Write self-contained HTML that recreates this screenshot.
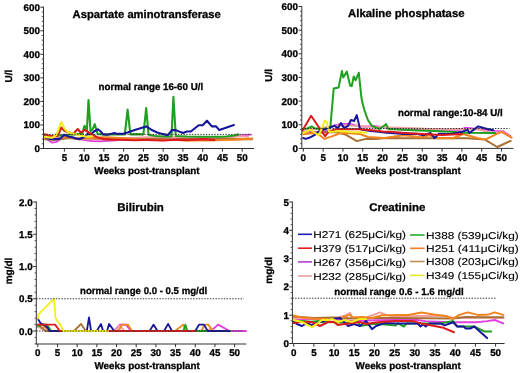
<!DOCTYPE html>
<html><head><meta charset="utf-8"><style>
html,body{margin:0;padding:0;background:#fff;}
svg{display:block;will-change:transform;}
text{font-family:"Liberation Sans", sans-serif;text-rendering:geometricPrecision;fill:#000;stroke:#000;stroke-width:0.3px;}
.tl{font-size:9.8px;font-weight:bold;}
.tt{font-size:11.2px;font-weight:bold;}
.nr{font-size:9.8px;font-weight:bold;}
.wk{font-size:9.9px;font-weight:bold;}
.ax{font-size:10px;font-weight:bold;}
.lg{font-size:9.9px;stroke-width:0.12px;}
</style></head><body>
<svg width="520" height="373" viewBox="0 0 520 373">
<rect width="520" height="373" fill="#fff"/>
<polyline points="44.6,137.9 48.6,140.3 52.1,142.6 56.5,141.9 60.4,139.1 64.8,136.7 69.1,137.2 74.3,137.9 80.2,139.1 84.2,140.0 92.1,141.0 100.0,141.2 107.9,140.7 115.8,140.3 123.7,139.6 131.6,138.6 139.5,137.9 155.3,138.1 171.1,137.7 186.9,137.9 202.7,138.1 218.5,137.7 226.4,137.2 234.3,136.3 242.2,135.3 250.9,134.6" fill="none" stroke="#e040e0" stroke-width="1.9" stroke-linejoin="round" stroke-linecap="round" opacity="1"/>
<polyline points="44.6,139.1 52.5,138.6 60.4,137.9 68.3,137.2 76.2,137.9 84.2,139.1 100.0,139.6 115.8,139.1 131.6,137.9 147.4,137.2 163.2,137.2 179.0,137.2 194.8,137.4 210.6,137.7 226.4,137.2 242.2,136.3 248.1,136.7" fill="none" stroke="#f0a0a0" stroke-width="1.9" stroke-linejoin="round" stroke-linecap="round" opacity="1"/>
<polyline points="44.6,139.1 52.5,139.6 60.4,139.1 68.3,137.9 76.2,138.6 84.2,138.1 92.1,138.1 107.9,137.9 123.7,138.6 139.5,139.1 155.3,139.1 171.1,139.6 186.9,139.1 202.7,139.8 218.5,139.1 234.3,139.1 252.1,139.3" fill="none" stroke="#a87034" stroke-width="2.1" stroke-linejoin="round" stroke-linecap="round" opacity="1"/>
<polyline points="44.6,138.1 48.6,138.8 52.5,139.1 56.5,139.1 60.4,138.6 64.4,136.7 68.3,137.2 72.3,137.7 76.2,138.6 80.2,139.1 84.2,138.1 92.1,137.7 103.9,137.2 115.8,137.7 127.6,138.6 139.5,139.6 151.3,140.0 163.2,140.3 175.0,139.8 186.9,140.7 198.7,140.3 210.6,140.5 222.4,140.0 234.3,139.6 252.1,138.6" fill="none" stroke="#f08520" stroke-width="2.1" stroke-linejoin="round" stroke-linecap="round" opacity="1"/>
<polyline points="44.6,135.5 52.5,136.3 60.4,135.5 68.3,134.8 76.2,134.4 82.2,133.9 84.5,125.7 86.9,130.1 88.5,100.0 90.5,131.1 92.4,129.7 94.8,124.2 97.0,132.0 98.0,134.1 103.9,134.4 111.8,134.4 119.7,134.1 124.8,134.4 127.6,109.6 130.4,134.4 135.5,134.1 143.4,134.4 146.2,108.0 148.6,134.8 155.3,136.0 163.2,136.5 171.5,136.5 173.4,96.9 175.8,136.0 186.9,136.5 202.7,136.7 218.5,136.7 226.4,136.5 234.3,135.5 238.2,134.4" fill="none" stroke="#1fa01f" stroke-width="2.1" stroke-linejoin="round" stroke-linecap="round" opacity="1"/>
<polyline points="44.6,136.3 46.6,137.9 48.6,138.6 52.5,139.1 56.5,139.1 60.4,138.6 64.0,134.8 69.1,136.7 72.3,137.2 75.9,138.4 79.6,139.3 84.9,136.7 87.7,133.9 90.5,134.8 94.0,131.5 98.0,129.2 100.7,131.5 103.1,134.4 107.1,134.8 110.6,133.9 114.2,133.0 117.7,133.9 122.1,133.9 127.6,132.5 135.5,129.7 146.2,126.4 151.3,129.7 157.2,132.5 162.0,133.9 167.9,135.1 171.9,130.1 175.8,130.1 182.9,133.0 186.9,131.5 190.8,131.5 198.7,125.2 202.7,125.2 207.0,120.7 211.8,126.4 216.1,126.4 219.3,130.1 233.9,125.0" fill="none" stroke="#16169c" stroke-width="2.1" stroke-linejoin="round" stroke-linecap="round" opacity="1"/>
<polyline points="44.6,134.4 46.6,134.8 48.6,135.5 52.5,136.0 56.5,136.3 58.5,134.4 61.2,127.5 64.4,130.8 67.2,132.0 70.3,132.7 73.1,133.9 77.8,129.0 80.2,132.0 81.4,132.5 84.5,129.9 88.1,132.0 90.5,133.7 94.0,135.5 98.0,137.7 103.9,139.1 111.8,139.6 119.7,139.8 127.6,140.0 135.5,140.3 143.4,140.0 147.4,140.0 155.3,140.3 163.2,140.5 171.1,140.0 179.0,139.6 186.9,140.0 194.8,139.6 202.7,139.1 210.6,139.6 214.5,140.0" fill="none" stroke="#dc1c1c" stroke-width="2.1" stroke-linejoin="round" stroke-linecap="round" opacity="1"/>
<polyline points="44.6,136.7 48.6,137.4 52.5,137.7 56.5,134.8 61.2,122.1 64.4,128.5 67.6,132.0 71.1,133.0 76.2,134.4 80.2,135.5 84.2,136.3 88.1,136.7 92.1,136.3" fill="none" stroke="#f2ee1c" stroke-width="2.1" stroke-linejoin="round" stroke-linecap="round" opacity="1"/>
<line x1="43.5" y1="134.37" x2="251.2" y2="134.37" stroke="#333" stroke-width="1" stroke-dasharray="1.4 1.4"/>
<line x1="43.5" y1="6.7" x2="43.5" y2="149.0" stroke="#333" stroke-width="1"/>
<line x1="43.5" y1="148.5" x2="254.0" y2="148.5" stroke="#333" stroke-width="1"/>
<line x1="40.3" y1="148.50" x2="43.5" y2="148.50" stroke="#333" stroke-width="1"/>
<text x="39.9" y="152.00" class="tl" text-anchor="end">0</text>
<line x1="40.3" y1="124.95" x2="43.5" y2="124.95" stroke="#333" stroke-width="1"/>
<text x="39.9" y="128.45" class="tl" text-anchor="end">100</text>
<line x1="40.3" y1="101.40" x2="43.5" y2="101.40" stroke="#333" stroke-width="1"/>
<text x="39.9" y="104.90" class="tl" text-anchor="end">200</text>
<line x1="40.3" y1="77.85" x2="43.5" y2="77.85" stroke="#333" stroke-width="1"/>
<text x="39.9" y="81.35" class="tl" text-anchor="end">300</text>
<line x1="40.3" y1="54.30" x2="43.5" y2="54.30" stroke="#333" stroke-width="1"/>
<text x="39.9" y="57.80" class="tl" text-anchor="end">400</text>
<line x1="40.3" y1="30.75" x2="43.5" y2="30.75" stroke="#333" stroke-width="1"/>
<text x="39.9" y="34.25" class="tl" text-anchor="end">500</text>
<line x1="40.3" y1="7.20" x2="43.5" y2="7.20" stroke="#333" stroke-width="1"/>
<text x="39.9" y="10.70" class="tl" text-anchor="end">600</text>
<line x1="41.7" y1="143.79" x2="43.5" y2="143.79" stroke="#444" stroke-width="0.9"/>
<line x1="41.7" y1="139.08" x2="43.5" y2="139.08" stroke="#444" stroke-width="0.9"/>
<line x1="41.7" y1="134.37" x2="43.5" y2="134.37" stroke="#444" stroke-width="0.9"/>
<line x1="41.7" y1="129.66" x2="43.5" y2="129.66" stroke="#444" stroke-width="0.9"/>
<line x1="41.7" y1="120.24" x2="43.5" y2="120.24" stroke="#444" stroke-width="0.9"/>
<line x1="41.7" y1="115.53" x2="43.5" y2="115.53" stroke="#444" stroke-width="0.9"/>
<line x1="41.7" y1="110.82" x2="43.5" y2="110.82" stroke="#444" stroke-width="0.9"/>
<line x1="41.7" y1="106.11" x2="43.5" y2="106.11" stroke="#444" stroke-width="0.9"/>
<line x1="41.7" y1="96.69" x2="43.5" y2="96.69" stroke="#444" stroke-width="0.9"/>
<line x1="41.7" y1="91.98" x2="43.5" y2="91.98" stroke="#444" stroke-width="0.9"/>
<line x1="41.7" y1="87.27" x2="43.5" y2="87.27" stroke="#444" stroke-width="0.9"/>
<line x1="41.7" y1="82.56" x2="43.5" y2="82.56" stroke="#444" stroke-width="0.9"/>
<line x1="41.7" y1="73.14" x2="43.5" y2="73.14" stroke="#444" stroke-width="0.9"/>
<line x1="41.7" y1="68.43" x2="43.5" y2="68.43" stroke="#444" stroke-width="0.9"/>
<line x1="41.7" y1="63.72" x2="43.5" y2="63.72" stroke="#444" stroke-width="0.9"/>
<line x1="41.7" y1="59.01" x2="43.5" y2="59.01" stroke="#444" stroke-width="0.9"/>
<line x1="41.7" y1="49.59" x2="43.5" y2="49.59" stroke="#444" stroke-width="0.9"/>
<line x1="41.7" y1="44.88" x2="43.5" y2="44.88" stroke="#444" stroke-width="0.9"/>
<line x1="41.7" y1="40.17" x2="43.5" y2="40.17" stroke="#444" stroke-width="0.9"/>
<line x1="41.7" y1="35.46" x2="43.5" y2="35.46" stroke="#444" stroke-width="0.9"/>
<line x1="41.7" y1="26.04" x2="43.5" y2="26.04" stroke="#444" stroke-width="0.9"/>
<line x1="41.7" y1="21.33" x2="43.5" y2="21.33" stroke="#444" stroke-width="0.9"/>
<line x1="41.7" y1="16.62" x2="43.5" y2="16.62" stroke="#444" stroke-width="0.9"/>
<line x1="41.7" y1="11.91" x2="43.5" y2="11.91" stroke="#444" stroke-width="0.9"/>
<line x1="64.39" y1="148.5" x2="64.39" y2="151.7" stroke="#333" stroke-width="1"/>
<text x="64.39" y="160.8" class="tl" text-anchor="middle">5</text>
<line x1="84.15" y1="148.5" x2="84.15" y2="151.7" stroke="#333" stroke-width="1"/>
<text x="84.15" y="160.8" class="tl" text-anchor="middle">10</text>
<line x1="103.91" y1="148.5" x2="103.91" y2="151.7" stroke="#333" stroke-width="1"/>
<text x="103.91" y="160.8" class="tl" text-anchor="middle">15</text>
<line x1="123.66" y1="148.5" x2="123.66" y2="151.7" stroke="#333" stroke-width="1"/>
<text x="123.66" y="160.8" class="tl" text-anchor="middle">20</text>
<line x1="143.42" y1="148.5" x2="143.42" y2="151.7" stroke="#333" stroke-width="1"/>
<text x="143.42" y="160.8" class="tl" text-anchor="middle">25</text>
<line x1="163.17" y1="148.5" x2="163.17" y2="151.7" stroke="#333" stroke-width="1"/>
<text x="163.17" y="160.8" class="tl" text-anchor="middle">30</text>
<line x1="182.93" y1="148.5" x2="182.93" y2="151.7" stroke="#333" stroke-width="1"/>
<text x="182.93" y="160.8" class="tl" text-anchor="middle">35</text>
<line x1="202.68" y1="148.5" x2="202.68" y2="151.7" stroke="#333" stroke-width="1"/>
<text x="202.68" y="160.8" class="tl" text-anchor="middle">40</text>
<line x1="222.44" y1="148.5" x2="222.44" y2="151.7" stroke="#333" stroke-width="1"/>
<text x="222.44" y="160.8" class="tl" text-anchor="middle">45</text>
<line x1="242.19" y1="148.5" x2="242.19" y2="151.7" stroke="#333" stroke-width="1"/>
<text x="242.19" y="160.8" class="tl" text-anchor="middle">50</text>
<polyline points="303.3,132.1 311.2,131.4 319.2,132.3 327.1,130.7 331.8,125.9 340.2,124.3 350.1,123.8 354.8,125.2 360.0,126.6 375.9,126.2 390.1,128.1 404.0,129.7 461.1,129.7 465.5,127.6 494.8,130.9 502.7,131.1 510.3,136.1" fill="none" stroke="#e040e0" stroke-width="1.9" stroke-linejoin="round" stroke-linecap="round" opacity="1"/>
<polyline points="303.3,130.7 311.2,129.5 319.2,128.3 327.1,127.1 335.0,125.9 342.9,125.2 354.8,125.7 366.7,126.6 382.6,127.1 398.5,127.6 414.3,128.3 430.2,129.0 446.0,129.5 461.9,129.0 477.8,129.5 495.6,133.7 501.6,131.4 511.5,137.8" fill="none" stroke="#f0a0a0" stroke-width="1.9" stroke-linejoin="round" stroke-linecap="round" opacity="1"/>
<polyline points="303.3,133.7 315.2,132.8 327.1,132.3 335.8,132.1 346.1,134.9 356.8,141.1 365.9,138.9 375.9,138.9 386.2,138.0 402.4,138.2 422.2,138.2 435.7,138.2 467.5,138.2 484.5,139.4 497.2,147.0 510.7,140.8" fill="none" stroke="#a87034" stroke-width="2.0" stroke-linejoin="round" stroke-linecap="round" opacity="1"/>
<polyline points="303.3,134.2 311.2,133.0 319.2,134.7 324.3,138.9 331.1,136.6 340.2,133.3 346.1,133.0 360.0,134.0 367.9,137.0 384.2,138.0 394.5,136.6 404.0,135.2 421.1,137.3 429.4,135.2 437.7,138.2 452.8,138.2 463.1,134.0 478.2,138.2 485.7,139.4 496.4,134.2 501.6,131.8 511.5,137.5" fill="none" stroke="#f08520" stroke-width="2.0" stroke-linejoin="round" stroke-linecap="round" opacity="1"/>
<polyline points="303.3,128.8 307.3,128.5 311.6,126.4 315.2,128.5 319.2,129.0 323.1,129.0 327.1,128.3 330.3,127.6 332.6,101.1 333.7,88.6 338.6,87.6 341.9,71.1 343.3,77.5 346.8,71.5 350.1,85.5 351.7,86.2 353.7,76.5 355.6,80.3 358.8,72.7 361.2,95.7 362.0,101.1 364.4,110.1 367.9,120.0 371.9,125.9 379.8,129.0 386.2,124.0 388.2,129.0 404.0,129.7 418.3,130.4 434.1,130.9 450.0,131.8 465.9,132.8 495.2,132.9" fill="none" stroke="#1fa01f" stroke-width="2.0" stroke-linejoin="round" stroke-linecap="round" opacity="1"/>
<polyline points="303.3,138.0 305.7,138.9 309.2,137.8 314.4,135.2 320.3,130.2 323.9,129.5 329.1,127.8 334.6,125.9 338.0,128.1 341.0,123.1 344.1,128.1 348.1,125.9 350.9,120.0 354.1,121.0 356.8,115.1 360.0,129.0 364.0,130.0 370.7,130.9 378.6,131.8 386.6,132.8 394.5,133.3 404.0,134.0 416.7,133.7 423.0,135.2 430.6,133.0 434.5,138.2 438.9,133.7 446.4,134.0 452.8,133.7 461.1,132.1 467.5,129.7 469.4,133.0 478.2,126.4 484.5,128.3 493.2,130.3" fill="none" stroke="#16169c" stroke-width="2.0" stroke-linejoin="round" stroke-linecap="round" opacity="1"/>
<polyline points="302.5,130.4 311.1,115.8 319.2,127.8 325.1,136.1 329.1,131.4 335.0,129.5 342.9,129.0 350.9,129.2 358.8,129.2 366.7,129.7 374.7,130.4 382.6,131.4 390.5,131.8 402.4,132.8 422.2,134.0 442.1,134.9 461.9,134.0" fill="none" stroke="#dc1c1c" stroke-width="2.0" stroke-linejoin="round" stroke-linecap="round" opacity="1"/>
<polyline points="302.5,133.3 310.6,129.7 318.4,135.2 321.5,129.5 324.7,120.5 327.1,122.4 327.9,128.3 329.1,131.8 335.0,131.4 340.2,130.9 350.1,132.1 358.8,132.3 366.7,132.8" fill="none" stroke="#f2ee1c" stroke-width="2.0" stroke-linejoin="round" stroke-linecap="round" opacity="1"/>
<line x1="301.8" y1="128.53" x2="509.5" y2="128.53" stroke="#333" stroke-width="1" stroke-dasharray="1.4 1.4"/>
<line x1="301.8" y1="6.0" x2="301.8" y2="148.9" stroke="#333" stroke-width="1"/>
<line x1="301.8" y1="148.4" x2="513.4" y2="148.4" stroke="#333" stroke-width="1"/>
<line x1="298.6" y1="148.40" x2="301.8" y2="148.40" stroke="#333" stroke-width="1"/>
<text x="297.9" y="151.90" class="tl" text-anchor="end">0</text>
<line x1="298.6" y1="124.75" x2="301.8" y2="124.75" stroke="#333" stroke-width="1"/>
<text x="297.9" y="128.25" class="tl" text-anchor="end">100</text>
<line x1="298.6" y1="101.10" x2="301.8" y2="101.10" stroke="#333" stroke-width="1"/>
<text x="297.9" y="104.60" class="tl" text-anchor="end">200</text>
<line x1="298.6" y1="77.45" x2="301.8" y2="77.45" stroke="#333" stroke-width="1"/>
<text x="297.9" y="80.95" class="tl" text-anchor="end">300</text>
<line x1="298.6" y1="53.80" x2="301.8" y2="53.80" stroke="#333" stroke-width="1"/>
<text x="297.9" y="57.30" class="tl" text-anchor="end">400</text>
<line x1="298.6" y1="30.15" x2="301.8" y2="30.15" stroke="#333" stroke-width="1"/>
<text x="297.9" y="33.65" class="tl" text-anchor="end">500</text>
<line x1="298.6" y1="6.50" x2="301.8" y2="6.50" stroke="#333" stroke-width="1"/>
<text x="297.9" y="10.00" class="tl" text-anchor="end">600</text>
<line x1="300.0" y1="143.67" x2="301.8" y2="143.67" stroke="#444" stroke-width="0.9"/>
<line x1="300.0" y1="138.94" x2="301.8" y2="138.94" stroke="#444" stroke-width="0.9"/>
<line x1="300.0" y1="134.21" x2="301.8" y2="134.21" stroke="#444" stroke-width="0.9"/>
<line x1="300.0" y1="129.48" x2="301.8" y2="129.48" stroke="#444" stroke-width="0.9"/>
<line x1="300.0" y1="120.02" x2="301.8" y2="120.02" stroke="#444" stroke-width="0.9"/>
<line x1="300.0" y1="115.29" x2="301.8" y2="115.29" stroke="#444" stroke-width="0.9"/>
<line x1="300.0" y1="110.56" x2="301.8" y2="110.56" stroke="#444" stroke-width="0.9"/>
<line x1="300.0" y1="105.83" x2="301.8" y2="105.83" stroke="#444" stroke-width="0.9"/>
<line x1="300.0" y1="96.37" x2="301.8" y2="96.37" stroke="#444" stroke-width="0.9"/>
<line x1="300.0" y1="91.64" x2="301.8" y2="91.64" stroke="#444" stroke-width="0.9"/>
<line x1="300.0" y1="86.91" x2="301.8" y2="86.91" stroke="#444" stroke-width="0.9"/>
<line x1="300.0" y1="82.18" x2="301.8" y2="82.18" stroke="#444" stroke-width="0.9"/>
<line x1="300.0" y1="72.72" x2="301.8" y2="72.72" stroke="#444" stroke-width="0.9"/>
<line x1="300.0" y1="67.99" x2="301.8" y2="67.99" stroke="#444" stroke-width="0.9"/>
<line x1="300.0" y1="63.26" x2="301.8" y2="63.26" stroke="#444" stroke-width="0.9"/>
<line x1="300.0" y1="58.53" x2="301.8" y2="58.53" stroke="#444" stroke-width="0.9"/>
<line x1="300.0" y1="49.07" x2="301.8" y2="49.07" stroke="#444" stroke-width="0.9"/>
<line x1="300.0" y1="44.34" x2="301.8" y2="44.34" stroke="#444" stroke-width="0.9"/>
<line x1="300.0" y1="39.61" x2="301.8" y2="39.61" stroke="#444" stroke-width="0.9"/>
<line x1="300.0" y1="34.88" x2="301.8" y2="34.88" stroke="#444" stroke-width="0.9"/>
<line x1="300.0" y1="25.42" x2="301.8" y2="25.42" stroke="#444" stroke-width="0.9"/>
<line x1="300.0" y1="20.69" x2="301.8" y2="20.69" stroke="#444" stroke-width="0.9"/>
<line x1="300.0" y1="15.96" x2="301.8" y2="15.96" stroke="#444" stroke-width="0.9"/>
<line x1="300.0" y1="11.23" x2="301.8" y2="11.23" stroke="#444" stroke-width="0.9"/>
<line x1="303.30" y1="148.4" x2="303.30" y2="151.6" stroke="#333" stroke-width="1"/>
<text x="303.30" y="160.8" class="tl" text-anchor="middle">0</text>
<line x1="323.12" y1="148.4" x2="323.12" y2="151.6" stroke="#333" stroke-width="1"/>
<text x="323.12" y="160.8" class="tl" text-anchor="middle">5</text>
<line x1="342.95" y1="148.4" x2="342.95" y2="151.6" stroke="#333" stroke-width="1"/>
<text x="342.95" y="160.8" class="tl" text-anchor="middle">10</text>
<line x1="362.77" y1="148.4" x2="362.77" y2="151.6" stroke="#333" stroke-width="1"/>
<text x="362.77" y="160.8" class="tl" text-anchor="middle">15</text>
<line x1="382.60" y1="148.4" x2="382.60" y2="151.6" stroke="#333" stroke-width="1"/>
<text x="382.60" y="160.8" class="tl" text-anchor="middle">20</text>
<line x1="402.43" y1="148.4" x2="402.43" y2="151.6" stroke="#333" stroke-width="1"/>
<text x="402.43" y="160.8" class="tl" text-anchor="middle">25</text>
<line x1="422.25" y1="148.4" x2="422.25" y2="151.6" stroke="#333" stroke-width="1"/>
<text x="422.25" y="160.8" class="tl" text-anchor="middle">30</text>
<line x1="442.08" y1="148.4" x2="442.08" y2="151.6" stroke="#333" stroke-width="1"/>
<text x="442.08" y="160.8" class="tl" text-anchor="middle">35</text>
<line x1="461.90" y1="148.4" x2="461.90" y2="151.6" stroke="#333" stroke-width="1"/>
<text x="461.90" y="160.8" class="tl" text-anchor="middle">40</text>
<line x1="481.73" y1="148.4" x2="481.73" y2="151.6" stroke="#333" stroke-width="1"/>
<text x="481.73" y="160.8" class="tl" text-anchor="middle">45</text>
<line x1="501.55" y1="148.4" x2="501.55" y2="151.6" stroke="#333" stroke-width="1"/>
<text x="501.55" y="160.8" class="tl" text-anchor="middle">50</text>
<polyline points="114.2,331.0 120.1,324.6 126.0,324.6 131.1,331.0 211.0,331.0 218.1,324.6 229.5,331.0 246.0,331.0" fill="none" stroke="#e040e0" stroke-width="1.9" stroke-linejoin="round" stroke-linecap="round" opacity="1"/>
<polyline points="37.8,325.8 41.7,329.1 45.7,324.6 49.6,331.0 114.6,331.0 120.1,325.8 124.4,331.0 207.0,331.0 211.0,328.4 214.9,331.0" fill="none" stroke="#f0a0a0" stroke-width="1.9" stroke-linejoin="round" stroke-linecap="round" opacity="1"/>
<polyline points="37.8,324.6 41.7,327.8 45.7,331.0 74.0,331.0 81.1,323.9 85.8,331.0 116.5,331.0" fill="none" stroke="#a87034" stroke-width="1.8" stroke-linejoin="round" stroke-linecap="round" opacity="1"/>
<polyline points="37.8,324.6 41.7,324.6 45.7,327.8 49.6,331.0 118.5,331.0 122.0,324.6 127.9,324.6 131.9,331.0 175.2,331.0 183.0,324.6 187.0,331.0 201.1,331.0 205.1,324.6 208.2,324.6 213.0,331.0" fill="none" stroke="#f08520" stroke-width="1.8" stroke-linejoin="round" stroke-linecap="round" opacity="1"/>
<polyline points="37.8,326.5 41.7,324.6 46.9,324.6 51.2,331.0 183.4,331.0 185.4,324.6 187.4,331.0 230.7,331.0" fill="none" stroke="#1fa01f" stroke-width="1.8" stroke-linejoin="round" stroke-linecap="round" opacity="1"/>
<polyline points="37.8,318.7 40.6,323.3 43.7,324.6 47.6,327.8 49.6,331.0 86.8,331.0 89.0,317.5 91.1,331.0 96.8,331.0 101.0,323.9 103.1,331.0 107.1,331.0 109.0,323.9 114.2,331.0 149.6,331.0 153.5,324.6 157.5,331.0 164.1,331.0 168.1,323.9 172.0,331.0 195.2,331.0 199.2,324.6 203.9,324.6 207.8,331.0 229.5,331.0" fill="none" stroke="#16169c" stroke-width="1.8" stroke-linejoin="round" stroke-linecap="round" opacity="1"/>
<polyline points="37.8,324.6 55.1,324.6 59.8,331.0 195.2,331.0" fill="none" stroke="#dc1c1c" stroke-width="1.8" stroke-linejoin="round" stroke-linecap="round" opacity="1"/>
<polyline points="37.8,318.7 38.0,314.9 44.9,307.8 53.9,298.8 54.7,307.8 55.5,318.1 57.5,321.3 59.8,323.9 61.8,327.8 63.0,331.0 107.9,331.0" fill="none" stroke="#f2ee1c" stroke-width="1.8" stroke-linejoin="round" stroke-linecap="round" opacity="1"/>
<line x1="36.3" y1="298.75" x2="243.8" y2="298.75" stroke="#333" stroke-width="1" stroke-dasharray="1.4 1.4"/>
<line x1="36.3" y1="331.00" x2="243.8" y2="331.00" stroke="#333" stroke-width="1" stroke-dasharray="1.4 1.4"/>
<line x1="36.3" y1="201.5" x2="36.3" y2="344.5" stroke="#333" stroke-width="1"/>
<line x1="36.3" y1="344.0" x2="246.4" y2="344.0" stroke="#333" stroke-width="1"/>
<line x1="33.099999999999994" y1="331.00" x2="36.3" y2="331.00" stroke="#333" stroke-width="1"/>
<text x="32.6" y="334.50" class="tl" text-anchor="end">0.0</text>
<line x1="33.099999999999994" y1="298.75" x2="36.3" y2="298.75" stroke="#333" stroke-width="1"/>
<text x="32.6" y="302.25" class="tl" text-anchor="end">0.5</text>
<line x1="33.099999999999994" y1="266.50" x2="36.3" y2="266.50" stroke="#333" stroke-width="1"/>
<text x="32.6" y="270.00" class="tl" text-anchor="end">1.0</text>
<line x1="33.099999999999994" y1="234.25" x2="36.3" y2="234.25" stroke="#333" stroke-width="1"/>
<text x="32.6" y="237.75" class="tl" text-anchor="end">1.5</text>
<line x1="33.099999999999994" y1="202.00" x2="36.3" y2="202.00" stroke="#333" stroke-width="1"/>
<text x="32.6" y="205.50" class="tl" text-anchor="end">2.0</text>
<line x1="34.5" y1="343.90" x2="36.3" y2="343.90" stroke="#444" stroke-width="0.9"/>
<line x1="34.5" y1="337.45" x2="36.3" y2="337.45" stroke="#444" stroke-width="0.9"/>
<line x1="34.5" y1="324.55" x2="36.3" y2="324.55" stroke="#444" stroke-width="0.9"/>
<line x1="34.5" y1="318.10" x2="36.3" y2="318.10" stroke="#444" stroke-width="0.9"/>
<line x1="34.5" y1="311.65" x2="36.3" y2="311.65" stroke="#444" stroke-width="0.9"/>
<line x1="34.5" y1="305.20" x2="36.3" y2="305.20" stroke="#444" stroke-width="0.9"/>
<line x1="34.5" y1="292.30" x2="36.3" y2="292.30" stroke="#444" stroke-width="0.9"/>
<line x1="34.5" y1="285.85" x2="36.3" y2="285.85" stroke="#444" stroke-width="0.9"/>
<line x1="34.5" y1="279.40" x2="36.3" y2="279.40" stroke="#444" stroke-width="0.9"/>
<line x1="34.5" y1="272.95" x2="36.3" y2="272.95" stroke="#444" stroke-width="0.9"/>
<line x1="34.5" y1="260.05" x2="36.3" y2="260.05" stroke="#444" stroke-width="0.9"/>
<line x1="34.5" y1="253.60" x2="36.3" y2="253.60" stroke="#444" stroke-width="0.9"/>
<line x1="34.5" y1="247.15" x2="36.3" y2="247.15" stroke="#444" stroke-width="0.9"/>
<line x1="34.5" y1="240.70" x2="36.3" y2="240.70" stroke="#444" stroke-width="0.9"/>
<line x1="34.5" y1="227.80" x2="36.3" y2="227.80" stroke="#444" stroke-width="0.9"/>
<line x1="34.5" y1="221.35" x2="36.3" y2="221.35" stroke="#444" stroke-width="0.9"/>
<line x1="34.5" y1="214.90" x2="36.3" y2="214.90" stroke="#444" stroke-width="0.9"/>
<line x1="34.5" y1="208.45" x2="36.3" y2="208.45" stroke="#444" stroke-width="0.9"/>
<line x1="37.80" y1="344.0" x2="37.80" y2="347.2" stroke="#333" stroke-width="1"/>
<text x="37.80" y="356.4" class="tl" text-anchor="middle">0</text>
<line x1="57.48" y1="344.0" x2="57.48" y2="347.2" stroke="#333" stroke-width="1"/>
<text x="57.48" y="356.4" class="tl" text-anchor="middle">5</text>
<line x1="77.16" y1="344.0" x2="77.16" y2="347.2" stroke="#333" stroke-width="1"/>
<text x="77.16" y="356.4" class="tl" text-anchor="middle">10</text>
<line x1="96.84" y1="344.0" x2="96.84" y2="347.2" stroke="#333" stroke-width="1"/>
<text x="96.84" y="356.4" class="tl" text-anchor="middle">15</text>
<line x1="116.52" y1="344.0" x2="116.52" y2="347.2" stroke="#333" stroke-width="1"/>
<text x="116.52" y="356.4" class="tl" text-anchor="middle">20</text>
<line x1="136.20" y1="344.0" x2="136.20" y2="347.2" stroke="#333" stroke-width="1"/>
<text x="136.20" y="356.4" class="tl" text-anchor="middle">25</text>
<line x1="155.88" y1="344.0" x2="155.88" y2="347.2" stroke="#333" stroke-width="1"/>
<text x="155.88" y="356.4" class="tl" text-anchor="middle">30</text>
<line x1="175.56" y1="344.0" x2="175.56" y2="347.2" stroke="#333" stroke-width="1"/>
<text x="175.56" y="356.4" class="tl" text-anchor="middle">35</text>
<line x1="195.24" y1="344.0" x2="195.24" y2="347.2" stroke="#333" stroke-width="1"/>
<text x="195.24" y="356.4" class="tl" text-anchor="middle">40</text>
<line x1="214.92" y1="344.0" x2="214.92" y2="347.2" stroke="#333" stroke-width="1"/>
<text x="214.92" y="356.4" class="tl" text-anchor="middle">45</text>
<line x1="234.60" y1="344.0" x2="234.60" y2="347.2" stroke="#333" stroke-width="1"/>
<text x="234.60" y="356.4" class="tl" text-anchor="middle">50</text>
<polyline points="293.7,320.0 313.9,318.9 334.1,319.4 354.3,320.9 374.5,320.3 395.9,320.0 417.3,320.0 425.7,321.1 449.2,322.3 459.3,322.3 476.6,322.3 487.1,321.1 494.8,320.0 503.3,323.4" fill="none" stroke="#e040e0" stroke-width="1.9" stroke-linejoin="round" stroke-linecap="round" opacity="1"/>
<polyline points="293.7,318.0 313.9,318.6 332.1,318.9 344.2,316.0 350.2,312.9 351.8,318.0 366.4,317.5 380.1,312.4 386.2,314.9 395.9,316.9 417.3,316.0 446.7,316.0 452.8,318.0 475.4,317.5 503.7,318.0" fill="none" stroke="#f0a0a0" stroke-width="1.9" stroke-linejoin="round" stroke-linecap="round" opacity="1"/>
<polyline points="293.7,316.6 313.9,318.0 334.1,317.5 354.3,318.6 374.5,318.0 395.9,318.0 452.8,318.6 465.7,316.9 480.7,317.2 503.3,317.2" fill="none" stroke="#a87034" stroke-width="2.0" stroke-linejoin="round" stroke-linecap="round" opacity="1"/>
<polyline points="293.7,315.5 300.0,317.2 311.9,318.6 322.0,318.9 332.1,318.9 342.2,317.5 350.2,314.6 352.7,317.5 361.9,316.9 372.0,318.0 382.1,315.2 392.2,315.2 395.9,314.9 408.4,314.9 421.3,312.4 433.8,314.4 444.3,315.8 452.8,318.9 459.3,314.9 467.7,312.4 477.8,314.9 488.7,314.4 494.8,312.4 503.3,314.9" fill="none" stroke="#f08520" stroke-width="2.0" stroke-linejoin="round" stroke-linecap="round" opacity="1"/>
<polyline points="293.7,320.9 301.8,320.9 311.9,321.7 317.9,320.9 322.0,322.0 334.1,322.3 351.8,323.1 357.9,321.1 359.9,326.0 366.0,325.1 374.5,323.7 382.5,324.3 395.9,325.4 397.9,323.4 403.9,326.5 406.8,323.4 440.3,323.4 453.2,321.1 457.2,326.5 474.2,326.5 484.7,331.6 491.2,331.6" fill="none" stroke="#1fa01f" stroke-width="2.0" stroke-linejoin="round" stroke-linecap="round" opacity="1"/>
<polyline points="293.7,322.0 296.9,324.0 302.0,326.0 307.0,323.1 311.9,325.1 315.9,323.1 332.1,318.9 340.1,318.0 344.2,322.0 348.2,326.0 353.9,324.0 359.9,326.0 366.0,320.9 372.0,329.1 376.1,326.0 384.2,323.1 395.9,323.4 417.3,323.4 420.5,326.5 423.3,324.3 425.7,326.5 429.8,323.4 440.3,323.4 444.7,325.4 453.2,322.3 457.2,326.5 463.7,326.5 465.7,328.5 470.2,328.5 474.2,326.5 487.1,338.1" fill="none" stroke="#16169c" stroke-width="2.0" stroke-linejoin="round" stroke-linecap="round" opacity="1"/>
<polyline points="293.7,323.1 300.0,322.0 311.9,322.0 319.9,326.0 328.0,322.0 334.1,322.0 338.1,325.1 344.2,324.0 351.8,323.1 359.9,322.0 366.0,324.0 372.0,323.1 380.1,322.0 395.9,321.1 412.8,321.1 421.3,323.4 431.8,325.4 442.3,327.4 454.0,332.2" fill="none" stroke="#dc1c1c" stroke-width="2.0" stroke-linejoin="round" stroke-linecap="round" opacity="1"/>
<polyline points="293.7,320.0 302.0,322.0 311.9,327.1 317.9,323.1 322.0,320.0 328.8,320.0 332.1,318.9 338.1,322.0 344.2,320.0 351.8,322.0 359.9,318.9 366.0,318.9" fill="none" stroke="#f2ee1c" stroke-width="2.0" stroke-linejoin="round" stroke-linecap="round" opacity="1"/>
<line x1="292.4" y1="298.22" x2="496" y2="298.22" stroke="#333" stroke-width="1" stroke-dasharray="1.4 1.4"/>
<line x1="292.4" y1="201.5" x2="292.4" y2="344.0" stroke="#333" stroke-width="1"/>
<line x1="292.4" y1="343.5" x2="504.6" y2="343.5" stroke="#333" stroke-width="1"/>
<line x1="289.2" y1="343.50" x2="292.4" y2="343.50" stroke="#333" stroke-width="1"/>
<text x="288.9" y="347.00" class="tl" text-anchor="end">0</text>
<line x1="289.2" y1="315.20" x2="292.4" y2="315.20" stroke="#333" stroke-width="1"/>
<text x="288.9" y="318.70" class="tl" text-anchor="end">1</text>
<line x1="289.2" y1="286.90" x2="292.4" y2="286.90" stroke="#333" stroke-width="1"/>
<text x="288.9" y="290.40" class="tl" text-anchor="end">2</text>
<line x1="289.2" y1="258.60" x2="292.4" y2="258.60" stroke="#333" stroke-width="1"/>
<text x="288.9" y="262.10" class="tl" text-anchor="end">3</text>
<line x1="289.2" y1="230.30" x2="292.4" y2="230.30" stroke="#333" stroke-width="1"/>
<text x="288.9" y="233.80" class="tl" text-anchor="end">4</text>
<line x1="289.2" y1="202.00" x2="292.4" y2="202.00" stroke="#333" stroke-width="1"/>
<text x="288.9" y="205.50" class="tl" text-anchor="end">5</text>
<line x1="290.59999999999997" y1="337.84" x2="292.4" y2="337.84" stroke="#444" stroke-width="0.9"/>
<line x1="290.59999999999997" y1="332.18" x2="292.4" y2="332.18" stroke="#444" stroke-width="0.9"/>
<line x1="290.59999999999997" y1="326.52" x2="292.4" y2="326.52" stroke="#444" stroke-width="0.9"/>
<line x1="290.59999999999997" y1="320.86" x2="292.4" y2="320.86" stroke="#444" stroke-width="0.9"/>
<line x1="290.59999999999997" y1="309.54" x2="292.4" y2="309.54" stroke="#444" stroke-width="0.9"/>
<line x1="290.59999999999997" y1="303.88" x2="292.4" y2="303.88" stroke="#444" stroke-width="0.9"/>
<line x1="290.59999999999997" y1="298.22" x2="292.4" y2="298.22" stroke="#444" stroke-width="0.9"/>
<line x1="290.59999999999997" y1="292.56" x2="292.4" y2="292.56" stroke="#444" stroke-width="0.9"/>
<line x1="290.59999999999997" y1="281.24" x2="292.4" y2="281.24" stroke="#444" stroke-width="0.9"/>
<line x1="290.59999999999997" y1="275.58" x2="292.4" y2="275.58" stroke="#444" stroke-width="0.9"/>
<line x1="290.59999999999997" y1="269.92" x2="292.4" y2="269.92" stroke="#444" stroke-width="0.9"/>
<line x1="290.59999999999997" y1="264.26" x2="292.4" y2="264.26" stroke="#444" stroke-width="0.9"/>
<line x1="290.59999999999997" y1="252.94" x2="292.4" y2="252.94" stroke="#444" stroke-width="0.9"/>
<line x1="290.59999999999997" y1="247.28" x2="292.4" y2="247.28" stroke="#444" stroke-width="0.9"/>
<line x1="290.59999999999997" y1="241.62" x2="292.4" y2="241.62" stroke="#444" stroke-width="0.9"/>
<line x1="290.59999999999997" y1="235.96" x2="292.4" y2="235.96" stroke="#444" stroke-width="0.9"/>
<line x1="290.59999999999997" y1="224.64" x2="292.4" y2="224.64" stroke="#444" stroke-width="0.9"/>
<line x1="290.59999999999997" y1="218.98" x2="292.4" y2="218.98" stroke="#444" stroke-width="0.9"/>
<line x1="290.59999999999997" y1="213.32" x2="292.4" y2="213.32" stroke="#444" stroke-width="0.9"/>
<line x1="290.59999999999997" y1="207.66" x2="292.4" y2="207.66" stroke="#444" stroke-width="0.9"/>
<line x1="293.70" y1="343.5" x2="293.70" y2="346.7" stroke="#333" stroke-width="1"/>
<text x="293.70" y="355.8" class="tl" text-anchor="middle">0</text>
<line x1="313.89" y1="343.5" x2="313.89" y2="346.7" stroke="#333" stroke-width="1"/>
<text x="313.89" y="355.8" class="tl" text-anchor="middle">5</text>
<line x1="334.08" y1="343.5" x2="334.08" y2="346.7" stroke="#333" stroke-width="1"/>
<text x="334.08" y="355.8" class="tl" text-anchor="middle">10</text>
<line x1="354.27" y1="343.5" x2="354.27" y2="346.7" stroke="#333" stroke-width="1"/>
<text x="354.27" y="355.8" class="tl" text-anchor="middle">15</text>
<line x1="374.46" y1="343.5" x2="374.46" y2="346.7" stroke="#333" stroke-width="1"/>
<text x="374.46" y="355.8" class="tl" text-anchor="middle">20</text>
<line x1="394.65" y1="343.5" x2="394.65" y2="346.7" stroke="#333" stroke-width="1"/>
<text x="394.65" y="355.8" class="tl" text-anchor="middle">25</text>
<line x1="414.84" y1="343.5" x2="414.84" y2="346.7" stroke="#333" stroke-width="1"/>
<text x="414.84" y="355.8" class="tl" text-anchor="middle">30</text>
<line x1="435.03" y1="343.5" x2="435.03" y2="346.7" stroke="#333" stroke-width="1"/>
<text x="435.03" y="355.8" class="tl" text-anchor="middle">35</text>
<line x1="455.22" y1="343.5" x2="455.22" y2="346.7" stroke="#333" stroke-width="1"/>
<text x="455.22" y="355.8" class="tl" text-anchor="middle">40</text>
<line x1="475.41" y1="343.5" x2="475.41" y2="346.7" stroke="#333" stroke-width="1"/>
<text x="475.41" y="355.8" class="tl" text-anchor="middle">45</text>
<line x1="495.60" y1="343.5" x2="495.60" y2="346.7" stroke="#333" stroke-width="1"/>
<text x="495.60" y="355.8" class="tl" text-anchor="middle">50</text>
<text x="72.6" y="17.6" class="tt" textLength="148.2" lengthAdjust="spacingAndGlyphs">Aspartate aminotransferase</text>
<text x="348.1" y="16.9" class="tt" textLength="116.4" lengthAdjust="spacingAndGlyphs">Alkaline phosphatase</text>
<text x="117.3" y="211.2" class="tt" textLength="46.6" lengthAdjust="spacingAndGlyphs">Bilirubin</text>
<text x="369.2" y="210.8" class="tt" textLength="56.1" lengthAdjust="spacingAndGlyphs">Creatinine</text>
<text x="98.6" y="90.2" class="nr" textLength="104.5" lengthAdjust="spacingAndGlyphs">normal range 16-60 U/l</text>
<text x="398.0" y="115.6" class="nr" textLength="104.6" lengthAdjust="spacingAndGlyphs">normal range:10-84 U/l</text>
<text x="80.0" y="294.4" class="nr" textLength="127.3" lengthAdjust="spacingAndGlyphs">normal range 0.0 - 0.5 mg/dl</text>
<text x="334.3" y="294.6" class="nr" textLength="129.3" lengthAdjust="spacingAndGlyphs">normal range 0.6 - 1.6 mg/dl</text>
<text x="94.3" y="173.6" class="wk" textLength="105.2" lengthAdjust="spacingAndGlyphs">Weeks post-transplant</text>
<text x="355.6" y="173.6" class="wk" textLength="105.2" lengthAdjust="spacingAndGlyphs">Weeks post-transplant</text>
<text x="94.5" y="369.3" class="wk" textLength="105.2" lengthAdjust="spacingAndGlyphs">Weeks post-transplant</text>
<text x="355.6" y="369.3" class="wk" textLength="105.2" lengthAdjust="spacingAndGlyphs">Weeks post-transplant</text>
<text transform="translate(12.4,76) rotate(-90)" x="0" y="0" class="ax" text-anchor="middle">U/l</text>
<text transform="translate(272.3,75.3) rotate(-90)" x="0" y="0" class="ax" text-anchor="middle">U/l</text>
<text transform="translate(12.4,271) rotate(-90)" x="0" y="0" class="ax" text-anchor="middle">mg/dl</text>
<text transform="translate(272,270.3) rotate(-90)" x="0" y="0" class="ax" text-anchor="middle">mg/dl</text>
<line x1="298" y1="234.3" x2="312" y2="234.3" stroke="#1c1cb8" stroke-width="1.6"/>
<text x="313.2" y="238.0" class="lg" textLength="92.7" lengthAdjust="spacingAndGlyphs">H271 (625μCi/kg)</text>
<line x1="298" y1="248.2" x2="312" y2="248.2" stroke="#e01c1c" stroke-width="1.6"/>
<text x="313.2" y="251.89999999999998" class="lg" textLength="92.7" lengthAdjust="spacingAndGlyphs">H379 (517μCi/kg)</text>
<line x1="298" y1="261.9" x2="312" y2="261.9" stroke="#b040d0" stroke-width="1.6"/>
<text x="313.2" y="265.59999999999997" class="lg" textLength="92.7" lengthAdjust="spacingAndGlyphs">H267 (356μCi/kg)</text>
<line x1="298" y1="276.0" x2="312" y2="276.0" stroke="#e8a0a0" stroke-width="1.6"/>
<text x="313.2" y="279.7" class="lg" textLength="92.7" lengthAdjust="spacingAndGlyphs">H232 (285μCi/kg)</text>
<line x1="410" y1="235.0" x2="424.6" y2="235.0" stroke="#28b028" stroke-width="1.6"/>
<text x="426.1" y="238.6" class="lg" textLength="92.6" lengthAdjust="spacingAndGlyphs">H388 (539μCi/kg)</text>
<line x1="410" y1="248.3" x2="424.6" y2="248.3" stroke="#f08028" stroke-width="1.6"/>
<text x="426.1" y="251.9" class="lg" textLength="92.6" lengthAdjust="spacingAndGlyphs">H251 (411μCi/kg)</text>
<line x1="410" y1="261.5" x2="424.6" y2="261.5" stroke="#c08c58" stroke-width="1.6"/>
<text x="426.1" y="265.1" class="lg" textLength="92.6" lengthAdjust="spacingAndGlyphs">H308 (203μCi/kg)</text>
<line x1="410" y1="275.4" x2="424.6" y2="275.4" stroke="#e8e828" stroke-width="1.6"/>
<text x="426.1" y="279.0" class="lg" textLength="92.6" lengthAdjust="spacingAndGlyphs">H349 (155μCi/kg)</text>
</svg>
</body></html>
